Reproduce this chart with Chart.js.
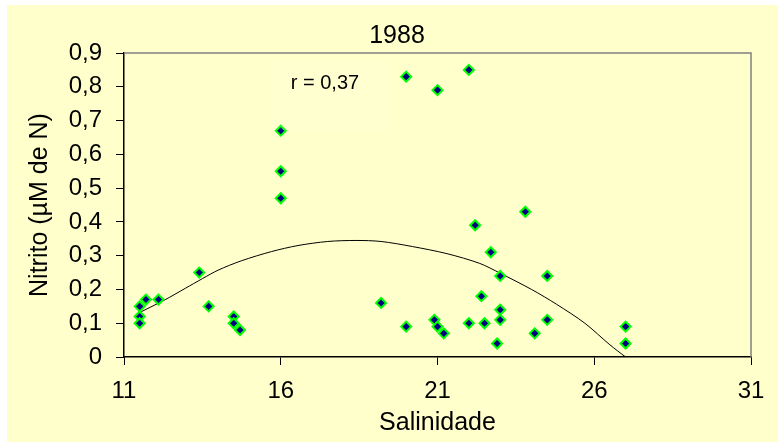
<!DOCTYPE html>
<html>
<head>
<meta charset="utf-8">
<script src="https://cdn.jsdelivr.net/npm/chart.js@4/dist/chart.umd.min.js"></script>
<style>
    body { margin: 0; background: #ffffff; }
    #wrap { position: absolute; left: 7px; top: 5px; width: 771px; height: 437px; background: #FFFFCC; }
</style>
</head>
<body>
<div id="wrap"><canvas id="chart" width="771" height="437"></canvas></div>
<script>
// pontos medidos (salinidade x nitrito)
const salinidade = [
    11.5, 11.5, 11.5, 11.7, 12.1, 13.4, 13.7, 14.5, 14.5, 14.7,
    16.0, 16.0, 16.0, 19.2, 20.0, 20.0, 20.9, 21.0, 21.0, 21.2,
    22.0, 22.0, 22.2, 22.4, 22.5, 22.7, 22.9, 23.0, 23.0, 23.0,
    23.8, 24.1, 24.5, 24.5, 27.0, 27.0
];
const nitrito = [
    0.15, 0.12, 0.10, 0.17, 0.17, 0.25, 0.15, 0.12, 0.10, 0.08,
    0.67, 0.55, 0.47, 0.16, 0.83, 0.09, 0.11, 0.79, 0.09, 0.07,
    0.85, 0.10, 0.39, 0.18, 0.10, 0.31, 0.04, 0.24, 0.14, 0.11,
    0.43, 0.07, 0.24, 0.11, 0.09, 0.04
];

// linha de tendencia (polinomial)
const trendSal = [11.55, 12.3, 12.95, 13.5, 14.0, 14.75, 15.7, 16.55, 17.5, 18.4, 19.2, 20.2, 21.3, 22.35, 23.0, 24.0, 24.8, 25.7, 26.5, 27.0];
const trendNit = [0.134, 0.169, 0.203, 0.232, 0.257, 0.285, 0.312, 0.330, 0.342, 0.345, 0.342, 0.327, 0.306, 0.277, 0.248, 0.200, 0.156, 0.100, 0.036, 0.0];

const titulo = '1988';
const rLabel = 'r = 0,37';

const fontFamily = "'Liberation Sans', Arial, sans-serif";

function virgula(v) {
    return String(Math.round(v * 10) / 10).replace('.', ',');
}

// titulo e caixa de texto com o r
const textos = {
    id: 'textos',
    afterDatasetsDraw(chart) {
        const ctx = chart.ctx;
        const x = chart.scales.x, y = chart.scales.y;
        ctx.save();
        ctx.fillStyle = 'rgba(255,255,255,0.09)';
        let x0 = x.getPixelForValue(15.72), x1 = x.getPixelForValue(19.48);
        let y0 = y.getPixelForValue(0.873), y1 = y.getPixelForValue(0.672);
        ctx.fillRect(x0, y0, x1 - x0, y1 - y0);
        ctx.fillStyle = '#000';
        ctx.font = '20px ' + fontFamily;
        ctx.textAlign = 'center';
        ctx.textBaseline = 'middle';
        ctx.fillText(rLabel, x.getPixelForValue(17.41), y.getPixelForValue(0.81));

        ctx.font = '25px ' + fontFamily;
        ctx.fillText(titulo, 390, 31);
        ctx.restore();
    }
};

// bordas cinzas em cima e a direita
const frame = {
    id: 'frame',
    beforeDatasetsDraw(chart) {
        const a = chart.chartArea;
        const ctx = chart.ctx;
        ctx.save();
        ctx.strokeStyle = '#808080';
        ctx.lineWidth = 1.5;
        ctx.beginPath();
        ctx.moveTo(a.left, a.top);
        ctx.lineTo(a.right, a.top);
        ctx.lineTo(a.right, a.bottom);
        ctx.stroke();
        ctx.restore();
    }
};

var myChart = new Chart(
    document.getElementById('chart'),
    {
        type: 'scatter',
        data: {
            datasets: [{
                label: 'Nitrito',
                data: salinidade.map((s, i) => ({ x: s, y: nitrito[i] })),
                pointStyle: 'rectRot',
                pointRadius: 5,
                backgroundColor: '#000080',
                borderColor: '#00FF00',
                borderWidth: 2,
            },
            {
                type: 'line',
                label: 'Tendencia',
                data: trendSal.map((s, i) => ({ x: s, y: trendNit[i] })),
                borderColor: '#000000',
                borderWidth: 1,
                pointRadius: 0,
                fill: false,
                tension: 0.3,
            }]
        },
        options: {
            responsive: false,
            animation: false,
            layout: { padding: { left: 0, right: 27, top: 48, bottom: 0 } },
            plugins: {
                legend: { display: false },
                tooltip: { enabled: false },
                title: { display: false }
            },
            scales: {
                x: {
                    type: 'linear',
                    min: 11,
                    max: 31,
                    afterFit: (s) => { s.height = 85; },
                    ticks: {
                        stepSize: 5,
                        color: '#000',
                        padding: 12,
                        font: { family: fontFamily, size: 24 },
                        callback: (v) => String(v)
                    },
                    grid: { display: true, drawOnChartArea: false, tickLength: 8, color: '#000' },
                    border: { color: '#000', width: 1.5 },
                    title: {
                        display: true,
                        text: 'Salinidade',
                        color: '#000',
                        font: { family: fontFamily, size: 25 },
                        padding: { top: 0, bottom: 4 }
                    }
                },
                y: {
                    min: 0,
                    max: 0.9,
                    afterFit: (s) => { s.width = 117; },
                    ticks: {
                        stepSize: 0.1,
                        color: '#000',
                        padding: 14,
                        font: { family: fontFamily, size: 24 },
                        callback: (v) => virgula(v)
                    },
                    grid: { display: true, drawOnChartArea: false, tickLength: 8, color: '#000' },
                    border: { color: '#000', width: 1.5 },
                    title: {
                        display: true,
                        text: 'Nitrito (µM de N)',
                        color: '#000',
                        font: { family: fontFamily, size: 25 },
                        padding: { top: 18, bottom: 0 }
                    }
                }
            }
        },
        plugins: [frame, textos]
    }
);
</script>
</body>
</html>
